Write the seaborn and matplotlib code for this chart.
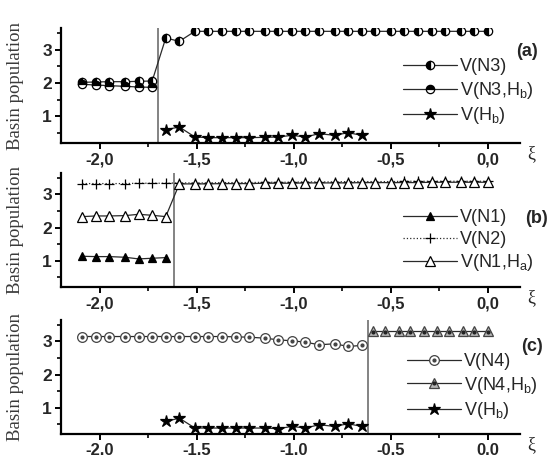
import matplotlib
matplotlib.use('Agg')
import matplotlib.pyplot as plt
import seaborn as sns
from matplotlib.legend_handler import HandlerTuple

sns.set_style('ticks')
plt.rcParams['font.family'] = ['Liberation Sans', 'DejaVu Sans']
plt.rcParams['mathtext.fontset'] = 'custom'
plt.rcParams['mathtext.rm'] = 'Liberation Sans'
plt.rcParams['mathtext.default'] = 'regular'

# ---------------- 数据 ----------------
xi = [-2.09, -2.02, -1.95, -1.87, -1.80, -1.73, -1.66, -1.59, -1.51, -1.44,
      -1.37, -1.30, -1.23, -1.15, -1.08, -1.01, -0.94, -0.87, -0.79, -0.72,
      -0.65, -0.58, -0.50, -0.43, -0.36, -0.29, -0.22, -0.14, -0.07, 0.00]

# (a)
a_n3_x = xi
a_n3_y = [2.02, 2.03, 2.04, 2.04, 2.05, 2.06, 3.35, 3.25, 3.55, 3.55,
          3.55, 3.55, 3.55, 3.55, 3.55, 3.55, 3.55, 3.55, 3.55, 3.55,
          3.55, 3.55, 3.55, 3.55, 3.55, 3.55, 3.55, 3.55, 3.55, 3.55]
a_n3hb_x = xi[:6]
a_n3hb_y = [1.96, 1.94, 1.92, 1.90, 1.88, 1.87]
a_hb_x = xi[6:21]
a_hb_y = [0.60, 0.68, 0.38, 0.36, 0.36, 0.36, 0.36, 0.37, 0.38, 0.43,
          0.38, 0.48, 0.43, 0.51, 0.43]
a_split = -1.70

# (b)
b_n1_x = xi[:7]
b_n1_y = [1.13, 1.12, 1.12, 1.10, 1.05, 1.07, 1.09]
b_n2_x = xi
b_n2_y = [3.33, 3.33, 3.33, 3.33, 3.34, 3.34, 3.34, 3.35, 3.35, 3.35,
          3.36, 3.36, 3.36, 3.37, 3.37, 3.37, 3.38, 3.38, 3.38, 3.39,
          3.39, 3.39, 3.39, 3.40, 3.40, 3.40, 3.40, 3.40, 3.40, 3.40]
b_n1ha_x = xi
b_n1ha_y = [2.33, 2.35, 2.35, 2.36, 2.40, 2.37, 2.33, 3.32, 3.32, 3.32,
            3.33, 3.33, 3.33, 3.34, 3.34, 3.34, 3.35, 3.35, 3.35, 3.35,
            3.36, 3.36, 3.36, 3.36, 3.36, 3.37, 3.37, 3.37, 3.37, 3.37]
b_split = -1.62

# (c)
c_n4_x = xi[:21]
c_n4_y = [3.15, 3.15, 3.15, 3.15, 3.15, 3.15, 3.15, 3.15, 3.15, 3.15,
          3.15, 3.14, 3.13, 3.10, 3.05, 3.02, 2.98, 2.90, 2.93, 2.85, 2.88]
c_n4hb_x = [-0.59, -0.53, -0.46, -0.40, -0.33, -0.26, -0.20, -0.13, -0.07, 0.00]
c_n4hb_y = [3.31, 3.31, 3.31, 3.31, 3.31, 3.31, 3.31, 3.31, 3.31, 3.31]
c_hb_x = xi[6:21]
c_hb_y = [0.58, 0.68, 0.38, 0.38, 0.38, 0.38, 0.38, 0.38, 0.36, 0.43,
          0.38, 0.48, 0.43, 0.51, 0.43]
c_split = -0.62

xtick_vals = [-2.0, -1.5, -1.0, -0.5, 0.0]
xtick_comma = ['-2,0', '-1,5', '-1,0', '-0,5', '0,0']
xtick_dot = ['-2.0', '-1.5', '-1.0', '-0.5', '0.0']
ytick_vals = [1, 2, 3]

# ---------------- 画图 ----------------
fig = plt.figure(figsize=(5.52, 4.59), dpi=100)
W, H = 552, 459


def make_ax(top, bottom):
    return fig.add_axes([61 / W, 1 - bottom / H, 459 / W, (bottom - top) / H])


ax_a = make_ax(28, 143)
ax_b = make_ax(173, 287)
ax_c = make_ax(320, 434)

line_kw = dict(color='#2a2a2a', linewidth=0.9, markeredgecolor='black',
               markeredgewidth=0.9)


def style_axis(ax, labels, panel, px, py):
    ax.set_xlim(-2.2, 0.166)
    ax.set_ylim(0.2, 3.65)
    ax.set_xticks(xtick_vals)
    ax.set_xticklabels(labels, fontweight='bold', fontsize=12)
    ax.set_xticks([-1.75, -1.25, -0.75, -0.25], minor=True)
    ax.set_yticks(ytick_vals)
    ax.set_yticklabels([str(v) for v in ytick_vals], fontweight='bold', fontsize=12.5)
    ax.set_yticks([0.5, 1.5, 2.5, 3.5], minor=True)
    ax.tick_params(which='major', length=4.5, width=1.4, pad=2, color='black')
    ax.tick_params(which='minor', length=3, width=1.2, color='black')
    sns.despine(ax=ax)
    for s in ['left', 'bottom']:
        ax.spines[s].set_linewidth(1.6)
        ax.spines[s].set_color('black')
    ax.set_xlabel('')
    ax.set_ylabel('Basin population', family=['Liberation Serif', 'DejaVu Serif'],
                  fontsize=13.5, color='#3a3a3a')
    ax.yaxis.set_label_coords(-0.08, 0.5)
    ax.text(1.015, -0.09, 'ξ', transform=ax.transAxes, fontsize=13,
            family=['Liberation Serif', 'DejaVu Serif'], ha='left', va='center')
    ax.text(px, py, panel, transform=ax.transAxes, fontsize=13,
            fontweight='bold', ha='center', va='center')


def make_legend(ax, handles, labels, x, y):
    leg = ax.legend(handles, labels, loc='center left', bbox_to_anchor=(x, y),
                    frameon=False, fontsize=13, handlelength=3.0,
                    handletextpad=0.15, labelspacing=0.25, borderpad=0,
                    borderaxespad=0, handler_map={tuple: HandlerTuple(ndivide=1)})
    return leg


# (a)
sns.lineplot(x=a_n3_x, y=a_n3_y, ax=ax_a, marker='o', markersize=6,
             fillstyle='left', markerfacecolor='black',
             markerfacecoloralt='white', **line_kw)
sns.lineplot(x=a_n3hb_x, y=a_n3hb_y, ax=ax_a, marker='o', markersize=6,
             fillstyle='top', markerfacecolor='black',
             markerfacecoloralt='white', **line_kw)
sns.lineplot(x=a_hb_x, y=a_hb_y, ax=ax_a, marker='*', markersize=9,
             markerfacecolor='black', **line_kw)
ax_a.axvline(a_split, color='#7a7a7a', linewidth=1.3, zorder=1)
style_axis(ax_a, xtick_comma, '(a)', 1.015, 0.80)
h = ax_a.get_lines()[:3]
make_legend(ax_a, h, ['V(N3)', 'V(N3,H$_b$)', 'V(H$_b$)'], 0.745, 0.44)

# (b)
sns.lineplot(x=b_n1_x, y=b_n1_y, ax=ax_b, marker='^', markersize=6,
             markerfacecolor='black', **line_kw)
sns.lineplot(x=b_n2_x, y=b_n2_y, ax=ax_b, marker='+', markersize=7,
             linestyle=':', **line_kw)
sns.lineplot(x=b_n1ha_x, y=b_n1ha_y, ax=ax_b, marker='^', markersize=6.5,
             markerfacecolor='white', **line_kw)
ax_b.axvline(b_split, color='#7a7a7a', linewidth=1.3, zorder=1)
style_axis(ax_b, xtick_comma, '(b)', 1.035, 0.60)
h = ax_b.get_lines()[:3]
make_legend(ax_b, h, ['V(N1)', 'V(N2)', 'V(N1,H$_a$)'], 0.745, 0.40)

# (c)
c_kw = dict(line_kw)
c_kw['markeredgecolor'] = '#444444'
sns.lineplot(x=c_n4_x, y=c_n4_y, ax=ax_c, marker='o', markersize=7,
             markerfacecolor='white', **c_kw)
h_n4_dot, = ax_c.plot(c_n4_x, c_n4_y, linestyle='none', marker='o',
                      markersize=2, color='#444444')
sns.lineplot(x=c_n4hb_x, y=c_n4hb_y, ax=ax_c, marker='^', markersize=7.5,
             markerfacecolor='#b5b5b5', **c_kw)
h_n4hb_dot, = ax_c.plot(c_n4hb_x, [v - 0.03 for v in c_n4hb_y], linestyle='none',
                        marker='o', markersize=2, color='#222222')
sns.lineplot(x=c_hb_x, y=c_hb_y, ax=ax_c, marker='*', markersize=9,
             markerfacecolor='black', **line_kw)
ax_c.axvline(c_split, color='#7a7a7a', linewidth=1.3, zorder=1)
style_axis(ax_c, xtick_dot, '(c)', 1.027, 0.77)
lines_c = ax_c.get_lines()
make_legend(ax_c, [(lines_c[0], h_n4_dot), (lines_c[2], h_n4hb_dot), lines_c[4]],
            ['V(N4)', 'V(N4,H$_b$)', 'V(H$_b$)'], 0.754, 0.41)

fig.savefig('out.png', dpi=100)
